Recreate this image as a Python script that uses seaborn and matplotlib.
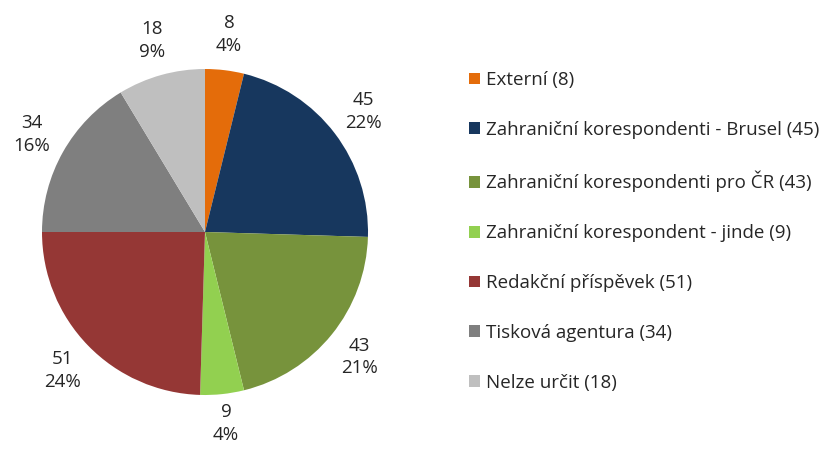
import matplotlib
matplotlib.use("Agg")
import matplotlib.pyplot as plt
import seaborn as sns

categories = [
    "Externí",
    "Zahraniční korespondenti - Brusel",
    "Zahraniční korespondenti pro ČR",
    "Zahraniční korespondent - jinde",
    "Redakční příspěvek",
    "Tisková agentura",
    "Nelze určit",
]
counts = [8, 45, 43, 9, 51, 34, 18]
percents = [4, 22, 21, 4, 24, 16, 9]
colors = ["#E46C0A", "#17375E", "#77933C", "#92D050", "#953735", "#7F7F7F", "#BFBFBF"]

sns.set_theme(style="white")
plt.rcParams["font.family"] = ["Open Sans", "DejaVu Sans"]

fig = plt.figure(figsize=(8.23, 4.5), dpi=100)
# pie centre ~ (205, 232) px, radius ~163 px
r_px = 163
half = 1.32
size = 2 * half * r_px
ax = fig.add_axes([(205 - size / 2) / 823, (450 - 232 - size / 2) / 450, size / 823, size / 450])

labels = [f"{c}\n{p}%" for c, p in zip(counts, percents)]
wedges, texts = ax.pie(
    counts,
    colors=colors,
    startangle=90,
    counterclock=False,
    labels=labels,
    labeldistance=1.22,
    textprops={"fontsize": 13.5, "color": "#262626", "linespacing": 1.35},
    wedgeprops={"linewidth": 0},
)
for t in texts:
    t.set_ha("center")
    t.set_va("center")
    # labels below the pie sit a little closer, as in the original
    x, y = t.get_position()
    if y < -1.1:
        t.set_position((x, y + 0.04))
ax.set_xlim(-half, half)
ax.set_ylim(-half, half)
ax.set_aspect("equal")
ax.axis("off")

legend_labels = [f"{c} ({n})" for c, n in zip(categories, counts)]
fig.legend(
    wedges,
    legend_labels,
    loc="center left",
    bbox_to_anchor=(452 / 823, 1 - 231.5 / 450),
    frameon=False,
    fontsize=13.5,
    labelspacing=1.7,
    handlelength=0.6,
    handleheight=0.6,
    handletextpad=0.3,
    labelcolor="#262626",
)

fig.savefig("out.png", dpi=100)
